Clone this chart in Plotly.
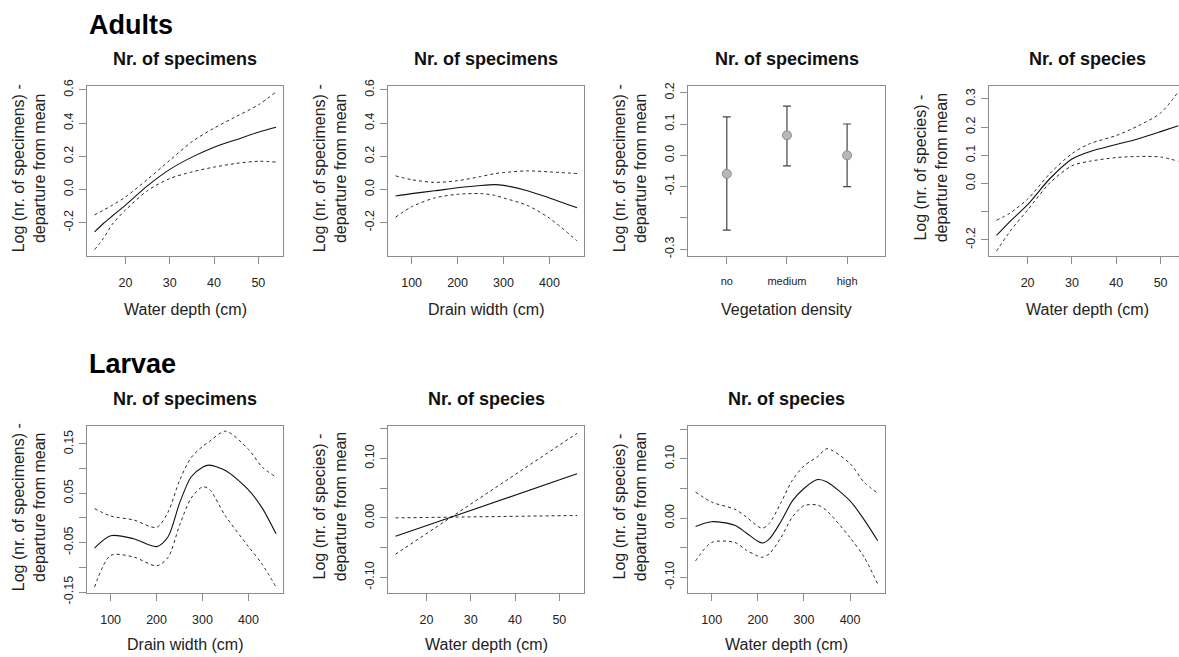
import plotly.graph_objects as go

# ---------------- data ----------------
a1_x = [13, 15, 17, 20, 25, 30, 35, 40, 45, 50, 54]
a1_fit = [-0.255, -0.205, -0.160, -0.094, 0.023, 0.121, 0.195, 0.255, 0.300, 0.345, 0.375]
a1_up = [-0.153, -0.125, -0.095, -0.045, 0.062, 0.176, 0.288, 0.370, 0.440, 0.510, 0.588]
a1_lo = [-0.363, -0.295, -0.210, -0.124, -0.006, 0.066, 0.106, 0.135, 0.157, 0.170, 0.165]

a2_x = [65, 100, 150, 200, 250, 280, 300, 350, 400, 460]
a2_fit = [-0.039, -0.025, -0.008, 0.010, 0.024, 0.029, 0.025, -0.006, -0.051, -0.110]
a2_up = [0.082, 0.059, 0.043, 0.053, 0.078, 0.095, 0.102, 0.112, 0.106, 0.096]
a2_lo = [-0.167, -0.104, -0.051, -0.029, -0.025, -0.035, -0.051, -0.094, -0.173, -0.310]

veg_cat = ["no", "medium", "high"]
veg_est = [-0.059, 0.064, 0.000]
veg_up = [0.123, 0.157, 0.100]
veg_lo = [-0.239, -0.034, -0.100]

a4_x = [13, 16, 20, 25, 30, 34, 40, 45, 50, 54]
a4_fit = [-0.184, -0.135, -0.075, 0.017, 0.087, 0.113, 0.138, 0.159, 0.184, 0.205]
a4_up = [-0.130, -0.105, -0.055, 0.035, 0.106, 0.141, 0.170, 0.205, 0.250, 0.325]
a4_lo = [-0.239, -0.170, -0.094, 0.002, 0.063, 0.079, 0.092, 0.096, 0.094, 0.079]

l1_x = [65, 100, 150, 200, 225, 250, 275, 300, 315, 350, 400, 430, 460]
l1_fit = [-0.061, -0.036, -0.042, -0.058, -0.038, 0.030, 0.083, 0.103, 0.107, 0.096, 0.057, 0.020, -0.032]
l1_up = [0.019, 0.004, -0.004, -0.019, 0.012, 0.076, 0.122, 0.145, 0.155, 0.176, 0.139, 0.103, 0.083]
l1_lo = [-0.140, -0.076, -0.079, -0.097, -0.080, -0.015, 0.040, 0.063, 0.058, 0.004, -0.058, -0.094, -0.140]

l2_x = [13, 54]
l2_fit = [-0.031, 0.074]
l2_up = [-0.061, 0.142]
l2_lo = [0.000, 0.004]

l3_x = [65, 100, 150, 175, 200, 210, 225, 250, 275, 300, 330, 350, 400, 430, 460]
l3_fit = [-0.014, -0.006, -0.012, -0.025, -0.039, -0.042, -0.035, -0.006, 0.029, 0.050, 0.065, 0.061, 0.029, -0.002, -0.038]
l3_up = [0.044, 0.027, 0.015, 0.002, -0.014, -0.017, -0.009, 0.026, 0.064, 0.088, 0.104, 0.117, 0.092, 0.061, 0.042]
l3_lo = [-0.072, -0.041, -0.041, -0.054, -0.064, -0.066, -0.060, -0.033, 0.002, 0.021, 0.022, 0.012, -0.033, -0.065, -0.111]

# ---------------- layout helpers ----------------
W, H = 1179, 657
FONT = "Liberation Sans, Arial, sans-serif"
GRAY = "#8c8c8c"


def px_x(p):
    return p / W


def px_y(p):
    return 1 - p / H


cols = [(87.3, 283.3), (388.3, 584.3), (688.3, 885.0), (989.3, 1179.0)]
rows = [(81.7, 255.5), (431.0, 603.0)]
xtitle_gap = [56, 52.5]
title_gap = [28, 28]

fig = go.Figure()

panels = [
    (0, 0, "line", a1_x, a1_fit, a1_up, a1_lo, [11.36, 55.64], [-0.398, 0.621],
     [20, 30, 40, 50], ["20", "30", "40", "50"],
     [-0.2, 0.0, 0.2, 0.4, 0.6], ["-0.2", "0.0", "0.2", "0.4", "0.6"],
     "Nr. of specimens", "Water depth (cm)", "Log (nr. of specimens) -<br>departure from mean"),
    (0, 1, "line", a2_x, a2_fit, a2_up, a2_lo, [49.2, 475.8], [-0.398, 0.621],
     [100, 200, 300, 400], ["100", "200", "300", "400"],
     [-0.2, 0.0, 0.2, 0.4, 0.6], ["-0.2", "0.0", "0.2", "0.4", "0.6"],
     "Nr. of specimens", "Drain width (cm)", "Log (nr. of specimens) -<br>departure from mean"),
    (0, 2, "cat", None, None, None, None, [0.36, 3.63], [-0.32, 0.22],
     [1, 2, 3], veg_cat,
     [-0.3, -0.2, -0.1, 0.0, 0.1, 0.2], ["-0.3", "", "-0.1", "0.0", "0.1", "0.2"],
     "Nr. of specimens", "Vegetation density", "Log (nr. of specimens) -<br>departure from mean"),
    (0, 3, "line", a4_x, a4_fit, a4_up, a4_lo, [11.36, 54.15], [-0.255, 0.344],
     [20, 30, 40, 50], ["20", "30", "40", "50"],
     [-0.2, -0.1, 0.0, 0.1, 0.2, 0.3], ["-0.2", "", "0.0", "0.1", "0.2", "0.3"],
     "Nr. of species", "Water depth (cm)", "Log (nr. of species) -<br>departure from mean"),
    (1, 0, "line", l1_x, l1_fit, l1_up, l1_lo, [49.2, 475.8], [-0.153, 0.186],
     [100, 200, 300, 400], ["100", "200", "300", "400"],
     [-0.15, -0.10, -0.05, 0.0, 0.05, 0.10, 0.15], ["-0.15", "", "-0.05", "", "0.05", "", "0.15"],
     "Nr. of specimens", "Drain width (cm)", "Log (nr. of specimens) -<br>departure from mean"),
    (1, 1, "line", l2_x, l2_fit, l2_up, l2_lo, [11.36, 55.64], [-0.127, 0.154],
     [20, 30, 40, 50], ["20", "30", "40", "50"],
     [-0.10, -0.05, 0.0, 0.05, 0.10, 0.15], ["-0.10", "", "0.00", "", "0.10", ""],
     "Nr. of species", "Water depth (cm)", "Log (nr. of species) -<br>departure from mean"),
    (1, 2, "line", l3_x, l3_fit, l3_up, l3_lo, [49.2, 475.8], [-0.127, 0.155],
     [100, 200, 300, 400], ["100", "200", "300", "400"],
     [-0.10, -0.05, 0.0, 0.05, 0.10, 0.15], ["-0.10", "", "0.00", "", "0.10", ""],
     "Nr. of species", "Water depth (cm)", "Log (nr. of species) -<br>departure from mean"),
]

annotations = []
for i, p in enumerate(panels, start=1):
    (r, c, kind, x, fit, up, lo, xr, yr, xt, xtt, yt, ytt, title, xtitle, ytitle) = p
    xa = "x" if i == 1 else f"x{i}"
    ya = "y" if i == 1 else f"y{i}"
    xkey = "xaxis" if i == 1 else f"xaxis{i}"
    ykey = "yaxis" if i == 1 else f"yaxis{i}"
    x0, x1 = cols[c]
    y0, y1 = rows[r]
    clipped = (c == 3)

    if kind == "line":
        for ys, dash, col, w in ((up, "3px,3px", "#2a2a2a", 1.0), (lo, "3px,3px", "#2a2a2a", 1.0),
                                 (fit, "solid", "#111111", 1.1)):
            fig.add_trace(go.Scatter(x=x, y=ys, mode="lines", xaxis=xa, yaxis=ya,
                                     line=dict(color=col, width=w, dash=dash, shape="spline", smoothing=0.8),
                                     showlegend=False, hoverinfo="skip"))
    else:
        fig.add_trace(go.Scatter(
            x=[1, 2, 3], y=veg_est, mode="markers", xaxis=xa, yaxis=ya, showlegend=False,
            marker=dict(size=9, color="#b8b8b8", line=dict(color="#8a8a8a", width=1)),
            error_y=dict(type="data", symmetric=False,
                         array=[u - e for u, e in zip(veg_up, veg_est)],
                         arrayminus=[e - l for e, l in zip(veg_est, veg_lo)],
                         color="#444444", thickness=1.2, width=4)))

    fig.layout[xkey] = dict(
        domain=[px_x(x0), min(1.0, px_x(x1))], range=xr, anchor=ya,
        tickmode="array", tickvals=xt, ticktext=xtt,
        ticks="outside", ticklen=7, tickcolor=GRAY, tickwidth=1,
        showline=True, linecolor=GRAY, linewidth=1, mirror=True,
        showgrid=False, zeroline=False, ticklabelstandoff=8,
        tickfont=dict(family=FONT, size=11 if kind == "cat" else 12.5, color="#222222"),
    )
    fig.layout[ykey] = dict(
        domain=[px_y(y1), px_y(y0)], range=yr, anchor=xa,
        tickmode="array", tickvals=yt, ticktext=ytt, tickangle=-90,
        ticks="outside", ticklen=7, tickcolor=GRAY, tickwidth=1,
        showline=True, linecolor=GRAY, linewidth=1, mirror=(not clipped),
        showgrid=False, zeroline=False, ticklabelstandoff=1,
        tickfont=dict(family=FONT, size=12.5, color="#222222"),
    )

    cx = (x0 + (x1 if not clipped else 1185.7)) / 2
    annotations.append(dict(text=f"<b>{title}</b>", x=px_x(cx), y=px_y(y0 - title_gap[r]), xref="paper", yref="paper",
                            showarrow=False, xanchor="center", yanchor="middle",
                            font=dict(family=FONT, size=18, color="#111111")))
    annotations.append(dict(text=xtitle, x=px_x(cx), y=px_y(y1 + xtitle_gap[r]), xref="paper", yref="paper",
                            showarrow=False, xanchor="center", yanchor="middle",
                            font=dict(family=FONT, size=16, color="#222222")))
    annotations.append(dict(text=ytitle, x=px_x(x0 - 58), y=px_y((y0 + y1) / 2 - 3), xref="paper", yref="paper",
                            showarrow=False, xanchor="center", yanchor="middle", textangle=-90,
                            font=dict(family=FONT, size=16, color="#222222")))

annotations.append(dict(text="<b>Adults</b>", x=px_x(87), y=px_y(18), xref="paper", yref="paper",
                        showarrow=False, xanchor="left", yanchor="middle",
                        font=dict(family=FONT, size=27, color="#000000")))
annotations.append(dict(text="<b>Larvae</b>", x=px_x(87), y=px_y(367), xref="paper", yref="paper",
                        showarrow=False, xanchor="left", yanchor="middle",
                        font=dict(family=FONT, size=27, color="#000000")))

fig.update_layout(
    width=W, height=H, margin=dict(l=0, r=0, t=0, b=0),
    paper_bgcolor="white", plot_bgcolor="white",
    annotations=annotations, showlegend=False,
)

fig.write_html("out.html", config={"displayModeBar": False},
               post_script="document.body.style.margin='0';document.body.style.overflow='hidden';")
